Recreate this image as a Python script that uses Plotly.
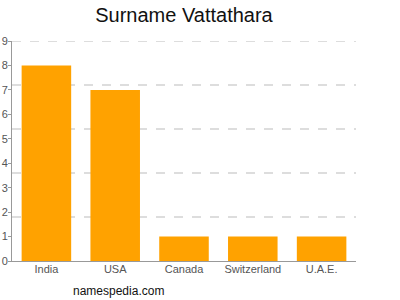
import plotly.graph_objects as go

countries = ["India", "USA", "Canada", "Switzerland", "U.A.E."]
counts = [8, 7, 1, 1, 1]
y_ticks = [0, 1, 2, 3, 4, 5, 6, 7, 8, 9]
grid_vals = [1.8, 3.6, 5.4, 7.2, 9]

fig = go.Figure()
fig.add_trace(go.Bar(x=countries, y=counts, marker_color="#FFA200",
                     marker_line_width=0, width=0.72))

for g in grid_vals:
    fig.add_shape(type="line", xref="paper", yref="y", x0=0, x1=1, y0=g, y1=g,
                  line=dict(color="#bbb", width=1, dash="dash"), layer="below")

fig.update_layout(
    width=400, height=300,
    margin=dict(l=12, r=44, t=41, b=39),
    paper_bgcolor="white", plot_bgcolor="white",
    showlegend=False,
    title=dict(text="Surname Vattathara", x=(12 + 356) / 2 / 400, xanchor="center",
               y=1 - 15 / 300, yanchor="middle",
               font=dict(family="Liberation Sans, Arial", size=20, color="#111")),
    font=dict(family="Liberation Sans, Arial", size=11, color="#555"),
    xaxis=dict(showline=True, linecolor="#999", linewidth=1, ticks="",
               tickfont=dict(size=11, color="#555"), range=[-0.5, 4.5],
               automargin=False, fixedrange=True, ticklabelstandoff=-2),
    yaxis=dict(range=[0, 9], tickvals=y_ticks, showgrid=False, showline=True,
               linecolor="#999", linewidth=1, ticks="outside", ticklen=3,
               tickcolor="#999", tickfont=dict(size=11, color="#555"),
               zeroline=False, automargin=False, ticklabelstandoff=-2),
    annotations=[dict(text="namespedia.com", x=69 / 400, y=-30 / 220,
                      xref="paper", yref="paper", xanchor="left", yanchor="middle",
                      showarrow=False,
                      font=dict(family="Liberation Sans, Arial", size=12, color="#111"))],
)
fig.write_html("out.html")
